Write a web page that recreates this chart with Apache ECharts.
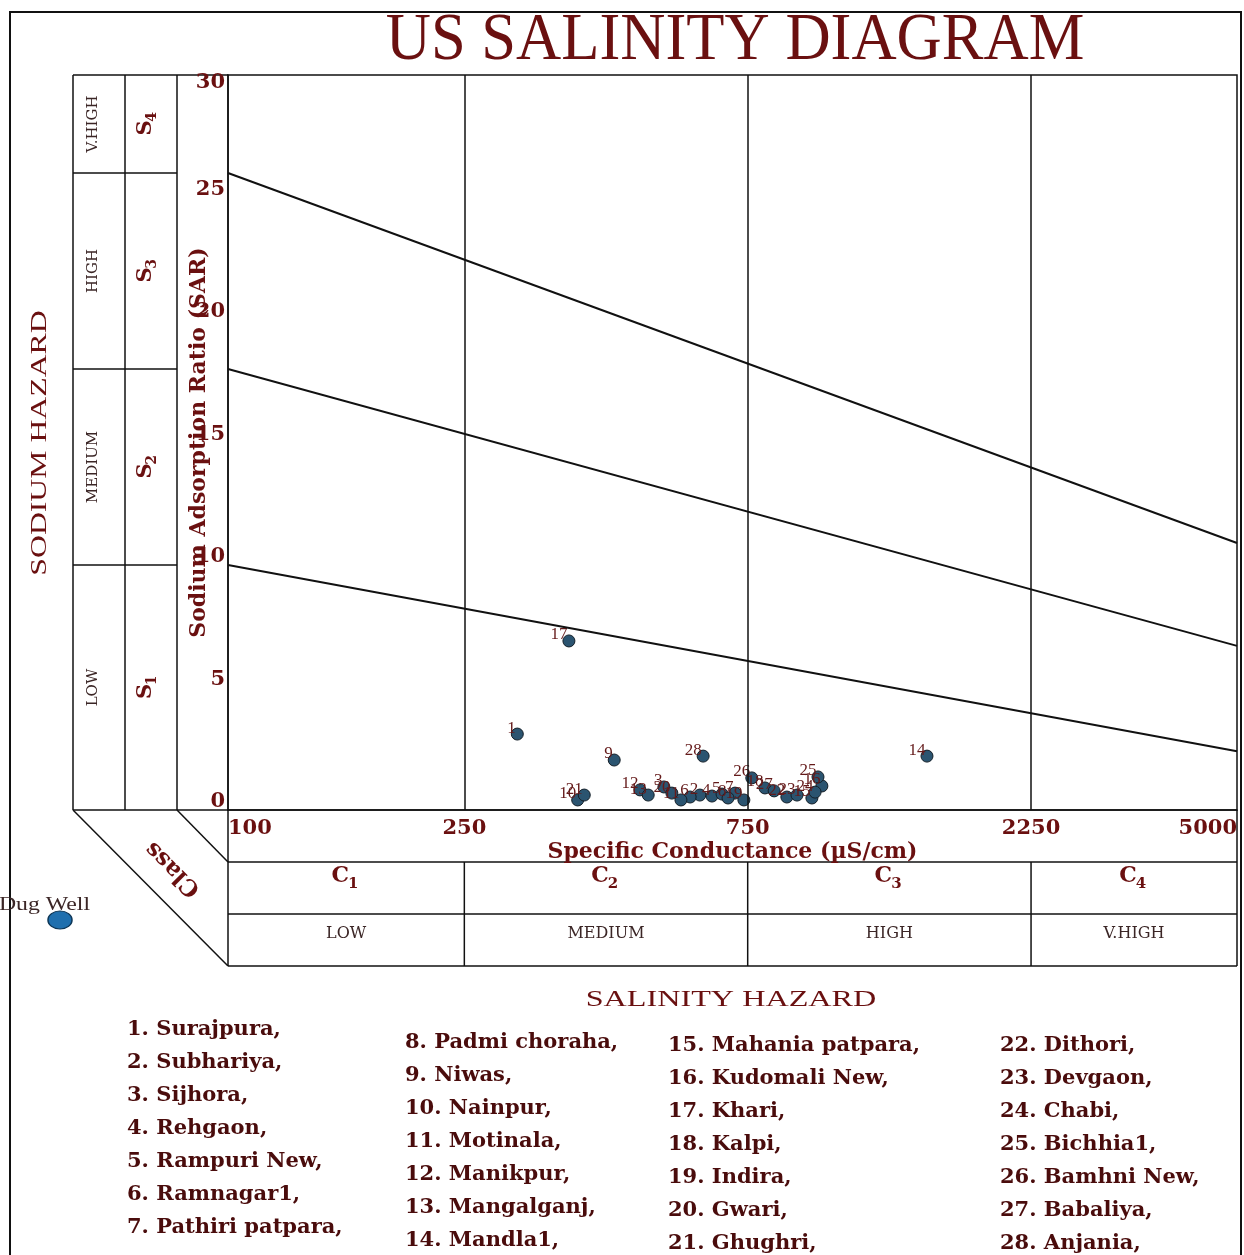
<!DOCTYPE html>
<html>
<head>
<meta charset="utf-8">
<title>US Salinity Diagram</title>
<script src="https://cdn.jsdelivr.net/npm/echarts@6/dist/echarts.min.js"></script>
<style>
  html, body { margin: 0; padding: 0; background: #fff; }
  #chart { width: 1244px; height: 1255px; }
</style>
</head>
<body>
<div id="chart"></div>
<script>
// sample numbers, conductance (µS/cm) and SAR
const sampleIds = [1, 2, 3, 4, 5, 6, 7, 8, 9, 10, 11, 12, 13, 14,
  15, 16, 17, 18, 19, 20, 21, 22, 23, 24, 25, 26, 27, 28]
const ecValues = [307, 623, 542, 653, 679, 600, 714, 695, 447, 388, 579, 494, 510, 1503,
  962, 1000, 375, 802, 739, 559, 398, 873, 908, 974, 985, 762, 831, 631]
const sarValues = [3.1, 0.61, 0.94, 0.57, 0.65, 0.53, 0.69, 0.49, 2.04, 0.41, 0.41, 0.82, 0.61, 2.2,
  0.49, 0.98, 6.9, 0.9, 0.41, 0.69, 0.61, 0.53, 0.61, 0.73, 1.35, 1.31, 0.78, 2.2]

// hazard boundary lines (endpoints at 100 and 5000)
const boundaryEc = [100, 5000]
const s1s2Sar = [10, 2.4]
const s2s3Sar = [18, 6.7]
const s3s4Sar = [26, 10.9]

const xTicks = [100, 250, 750, 2250, 5000]
const classSplits = [250, 750, 2250]
const classCodes = ['1', '2', '3', '4']
const classNames = ['LOW', 'MEDIUM', 'HIGH', 'V.HIGH']
const sodiumNames = ['V.HIGH', 'HIGH', 'MEDIUM', 'LOW']
const sodiumCodes = ['4', '3', '2', '1']
const sodiumSplits = [26, 18, 10]

const siteNames = ['Surajpura', 'Subhariya', 'Sijhora', 'Rehgaon', 'Rampuri New', 'Ramnagar1',
  'Pathiri patpara', 'Padmi choraha', 'Niwas', 'Nainpur', 'Motinala', 'Manikpur', 'Mangalganj',
  'Mandla1', 'Mahania patpara', 'Kudomali New', 'Khari', 'Kalpi', 'Indira', 'Gwari', 'Ghughri',
  'Dithori', 'Devgaon', 'Chabi', 'Bichhia1', 'Bamhni New', 'Babaliya', 'Anjania']

const RED = '#6a1010'
const DARK = '#3b2626'
const G = { left: 228, top: 75, width: 1009, height: 735 }

const chart = echarts.init(document.getElementById('chart'))

const points = sampleIds.map((id, i) => ({ name: String(id), value: [ecValues[i], sarValues[i]] }))
const boundary = (sar) => boundaryEc.map((ec, i) => [ec, sar[i]])

const lineStyle = { color: '#111', width: 2 }

chart.setOption({
  backgroundColor: '#fff',
  animation: false,
  grid: { left: G.left, top: G.top, width: G.width, height: G.height, show: true, borderColor: '#111', borderWidth: 1.5 },
  xAxis: {
    type: 'log',
    logBase: 10,
    min: 100,
    max: 5000,
    name: 'Specific Conductance (µS/cm)',
    nameLocation: 'middle',
    nameGap: 31,
    nameMoveOverlap: false,
    nameTextStyle: { fontFamily: 'DejaVu Serif', fontWeight: 'bold', fontSize: 22, color: RED },
    axisLine: { lineStyle: { color: '#111', width: 1.5 } },
    axisTick: { show: false },
    splitLine: { show: false },
    minorTick: { show: false },
    axisLabel: {
      customValues: xTicks,
      formatter: v => String(v),
      alignMinLabel: 'left',
      alignMaxLabel: 'right',
      margin: 8,
      fontFamily: 'DejaVu Serif',
      fontWeight: 'bold',
      fontSize: 21,
      color: RED
    }
  },
  yAxis: {
    type: 'value',
    min: 0,
    max: 30,
    interval: 5,
    name: 'Sodium Adsorption Ratio (SAR)',
    nameLocation: 'middle',
    nameGap: 18,
    nameRotate: 90,
    nameMoveOverlap: false,
    nameTextStyle: { fontFamily: 'DejaVu Serif', fontWeight: 'bold', fontSize: 22, color: RED },
    axisLine: { show: true, lineStyle: { color: '#111', width: 1.5 } },
    axisTick: { show: false },
    splitLine: { show: false },
    axisLabel: {
      margin: 3,
      verticalAlign: 'bottom',
      lineHeight: 16,
      verticalAlignMaxLabel: 'top',
      fontFamily: 'DejaVu Serif',
      fontWeight: 'bold',
      fontSize: 21,
      color: RED
    }
  },
  series: [
    {
      type: 'line',
      data: boundary(s1s2Sar),
      symbol: 'none',
      lineStyle: lineStyle,
      silent: true,
      markLine: {
        silent: true,
        symbol: ['none', 'none'],
        label: { show: false },
        lineStyle: { color: '#111', type: 'solid', width: 1.5 },
        data: classSplits.map(v => ({ xAxis: v }))
      }
    },
    { type: 'line', data: boundary(s2s3Sar), symbol: 'none', lineStyle: lineStyle, silent: true },
    { type: 'line', data: boundary(s3s4Sar), symbol: 'none', lineStyle: lineStyle, silent: true },
    {
      type: 'scatter',
      data: points,
      symbolSize: 12,
      itemStyle: { color: '#2b5470', borderColor: '#141f28', borderWidth: 1, opacity: 1 },
      label: {
        show: true,
        formatter: p => p.name,
        position: 'left',
        distance: 0,
        offset: [5, -6],
        fontFamily: 'Liberation Serif',
        fontSize: 17,
        color: '#641a1a'
      }
    }
  ]
})

// frame, class panels and legend list drawn around the plot
function px(v) { return chart.convertToPixel({ xAxisIndex: 0 }, v) }
function py(v) { return chart.convertToPixel({ yAxisIndex: 0 }, v) }

const right = G.left + G.width
const bottom = G.top + G.height
const rowA = bottom + 52
const rowB = bottom + 104
const rowC = bottom + 156
const colA = 73, colB = 125, colC = 177

const line = (x1, y1, x2, y2, w) => ({ type: 'line', shape: { x1, y1, x2, y2 }, style: { stroke: '#111', lineWidth: w || 1.5 }, silent: true })
const text = (t, x, y, font, fill, opts) => Object.assign({
  type: 'text', x, y, silent: true,
  style: { text: t, font, fill, align: 'center', verticalAlign: 'middle' }
}, opts || {})

const gfx = []
gfx.push({ type: 'rect', shape: { x: 10, y: 12, width: 1231, height: 1300 }, style: { fill: 'none', stroke: '#111', lineWidth: 2 }, silent: true })
gfx.push(text('US SALINITY DIAGRAM', 735, 41, '68px "Liberation Serif"', RED, { scaleX: 0.92 }))

// left sodium panel
gfx.push(line(colA, G.top, G.left, G.top))
gfx.push(line(colA, G.top, colA, bottom))
gfx.push(line(colB, G.top, colB, bottom))
gfx.push(line(colC, G.top, colC, bottom))
gfx.push(line(colA, bottom, G.left, bottom))
sodiumSplits.forEach(v => gfx.push(line(colA, py(v), colC, py(v))))
const bands = [30].concat(sodiumSplits).concat([0])
sodiumNames.forEach((n, i) => {
  const yc = (py(bands[i]) + py(bands[i + 1])) / 2
  gfx.push(text(n, 93, yc, '15px "DejaVu Serif"', DARK, { rotation: Math.PI / 2 }))
  gfx.push({
    type: 'group', x: 146, y: yc, rotation: Math.PI / 2, silent: true,
    children: [
      text('S', -4, 0, 'bold 21px "DejaVu Serif"', RED),
      text(sodiumCodes[i], 7, 6, 'bold 14px "DejaVu Serif"', RED)
    ]
  })
})
gfx.push(text('SODIUM HAZARD', 40, 443, '23px "Liberation Serif"', RED, { rotation: Math.PI / 2, scaleX: 1.38 }))

// bottom salinity panel
gfx.push(line(G.left, bottom, G.left, rowC))
gfx.push(line(right, bottom, right, rowC))
gfx.push(line(G.left, rowA, right, rowA))
gfx.push(line(G.left, rowB, right, rowB))
gfx.push(line(G.left, rowC, right, rowC))
classSplits.forEach(v => gfx.push(line(px(v), rowA, px(v), rowC)))
gfx.push(line(colA, bottom, G.left, rowC))
gfx.push(line(colC, bottom, G.left, rowA))
gfx.push(text('Class', 173, 869, 'bold 23px "DejaVu Serif"', RED, { rotation: Math.PI * 3 / 4 }))
const edges = [100].concat(classSplits).concat([5000])
classNames.forEach((n, i) => {
  const xc = (px(edges[i]) + px(edges[i + 1])) / 2
  gfx.push(text('C', xc - 6, rowA + 14, 'bold 22px "DejaVu Serif"', RED))
  gfx.push(text(classCodes[i], xc + 7, rowA + 22, 'bold 15px "DejaVu Serif"', RED))
  gfx.push(text(n, xc, rowB + 20, '16px "DejaVu Serif"', DARK))
})
gfx.push(text('SALINITY HAZARD', 731, 1000, '23px "Liberation Serif"', RED, { scaleX: 1.4 }))

// dug well key
gfx.push({
  type: 'text', x: 90, y: 905, scaleX: 1.25, silent: true,
  style: { text: 'Dug Well', font: '19px "Liberation Serif"', fill: DARK, align: 'right', verticalAlign: 'middle' }
})
gfx.push({ type: 'circle', x: 60, y: 920, scaleY: 0.75, shape: { cx: 0, cy: 0, r: 12 }, style: { fill: '#1f6fae', stroke: '#0c3556', lineWidth: 1.5 }, silent: true })

// site list in four columns
const listX = [127, 405, 668, 1000]
const listY = [1030, 1043, 1046, 1046]
siteNames.forEach((n, i) => {
  const c = Math.floor(i / 7), r = i % 7
  gfx.push({
    type: 'text', x: listX[c], y: listY[c] + r * 33, silent: true,
    style: { text: (i + 1) + '. ' + n + ',', font: 'bold 21px "DejaVu Serif"', fill: '#4a0c0c', align: 'left', verticalAlign: 'middle' }
  })
})

chart.setOption({ graphic: gfx })
</script>
</body>
</html>
